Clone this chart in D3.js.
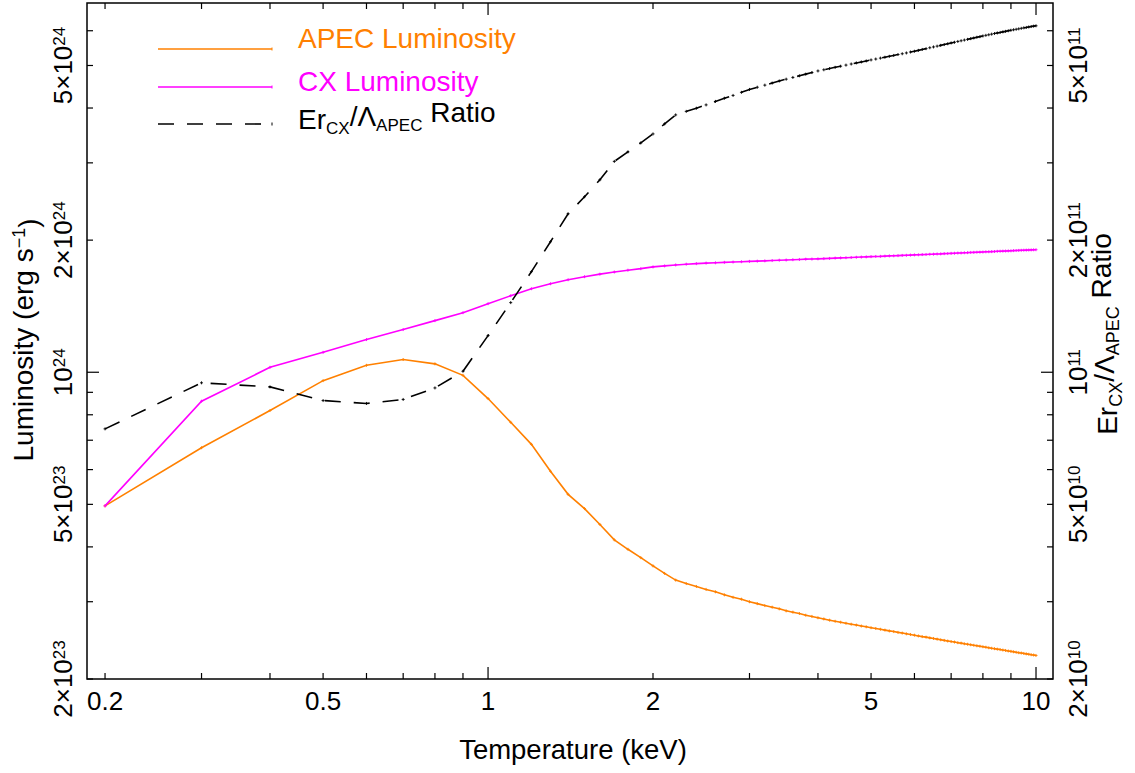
<!DOCTYPE html>
<html>
<head>
<meta charset="utf-8">
<script src="https://cdn.jsdelivr.net/npm/d3@7"></script>
<style>
body{margin:0;background:#fff;}
text{font-family:"Liberation Sans",Arial,Helvetica,sans-serif;fill:#000;}
</style>
</head>
<body>
<svg id="chart" width="1135" height="773"></svg>
<script>
// temperature grid (keV)
const temps = [0.2,0.3,0.4,0.5,0.6,0.7,0.8,0.9,1.0,
 1.1,1.2,1.3,1.4,1.5,1.6,1.7,1.8,1.9,2.0,
 2.1,2.2,2.3,2.4,2.5,2.6,2.7,2.8,2.9,3.0,
 3.1,3.2,3.3,3.4,3.5,3.6,3.7,3.8,3.9,4.0,
 4.1,4.2,4.3,4.4,4.5,4.6,4.7,4.8,4.9,5.0,
 5.1,5.2,5.3,5.4,5.5,5.6,5.7,5.8,5.9,6.0,
 6.1,6.2,6.3,6.4,6.5,6.6,6.7,6.8,6.9,7.0,
 7.1,7.2,7.3,7.4,7.5,7.6,7.7,7.8,7.9,8.0,
 8.1,8.2,8.3,8.4,8.5,8.6,8.7,8.8,8.9,9.0,
 9.1,9.2,9.3,9.4,9.5,9.6,9.7,9.8,9.9,10.0];

// APEC luminosity, units of 1e23 erg/s
const apecLum = [4.96,6.73,8.18,9.57,10.37,10.69,10.45,9.84,8.71,
 7.69,6.85,5.95,5.27,4.89,4.50,4.15,3.95,3.78,3.62,
 3.48,3.36,3.30,3.25,3.20,3.16,3.11,3.07,3.04,3.00,
 2.97,2.94,2.915,2.89,2.86,2.84,2.82,2.795,2.777,2.758,
 2.741,2.723,2.707,2.694,2.679,2.666,2.654,2.641,2.630,2.618,
 2.607,2.596,2.585,2.574,2.565,2.554,2.545,2.535,2.526,2.517,
 2.507,2.498,2.491,2.482,2.474,2.465,2.457,2.449,2.441,2.434,
 2.428,2.420,2.414,2.406,2.400,2.394,2.387,2.381,2.375,2.369,
 2.363,2.356,2.350,2.345,2.339,2.334,2.328,2.323,2.317,2.312,
 2.307,2.301,2.296,2.292,2.287,2.282,2.277,2.272,2.268,2.263];

// CX luminosity, units of 1e23 erg/s
const cxLum = [4.96,8.59,10.26,11.10,11.87,12.51,13.11,13.67,14.33,
 14.94,15.50,15.91,16.25,16.51,16.73,16.92,17.08,17.22,17.38,
 17.47,17.56,17.63,17.68,17.73,17.76,17.80,17.83,17.86,17.89,
 17.91,17.94,17.97,18.00,18.02,18.05,18.07,18.10,18.11,18.13,
 18.15,18.17,18.20,18.22,18.24,18.26,18.28,18.30,18.32,18.34,
 18.36,18.37,18.39,18.41,18.42,18.44,18.46,18.47,18.49,18.51,
 18.52,18.54,18.55,18.57,18.58,18.60,18.61,18.63,18.64,18.66,
 18.67,18.69,18.70,18.72,18.73,18.75,18.76,18.77,18.78,18.79,
 18.81,18.82,18.83,18.84,18.86,18.87,18.88,18.89,18.90,18.91,
 18.93,18.94,18.95,18.96,18.97,18.98,18.99,19.00,19.01,19.02];

// Er_CX / Lambda_APEC ratio, units of 1e10
const ratio = [7.43,9.46,9.26,8.62,8.49,8.67,9.21,10.05,12.12,
 14.41,16.95,19.83,22.97,25.11,27.45,30.23,31.78,33.31,34.92,
 36.81,38.58,39.30,39.96,40.66,41.41,42.11,42.73,43.43,44.10,
 44.61,45.10,45.60,46.10,46.54,46.96,47.37,47.78,48.18,48.59,
 48.89,49.20,49.52,49.81,50.10,50.39,50.68,50.94,51.21,51.48,
 51.72,51.97,52.21,52.46,52.71,52.96,53.18,53.40,53.66,53.88,
 54.13,54.39,54.62,54.88,55.11,55.34,55.57,55.80,56.04,56.28,
 56.48,56.72,56.93,57.14,57.35,57.56,57.77,57.98,58.17,58.38,
 58.57,58.75,58.94,59.13,59.31,59.47,59.65,59.81,59.99,60.15,
 60.31,60.46,60.60,60.76,60.92,61.05,61.20,61.33,61.46,61.58];

const xTickLabels = [0.2, 0.5, 1, 2, 5, 10];
const lumTickLabels = [2e23, 5e23, 1e24, 2e24, 5e24];
const ratioTickLabels = [2e10, 5e10, 1e11, 2e11, 5e11];
const legendNames = ["APEC Luminosity", "CX Luminosity", "ratio"];
const colors = ["#ff8000", "#ff00ff", "#000000"];

var svg = d3.select("#chart");
var pL = 87, pR = 1053, pT = 3, pB = 679;

var x = d3.scaleLog().domain([0.1854, 10.74]).range([pL, pR]);
var yL = d3.scaleLog().domain([2e23, 6.94e24]).range([pB, pT]);
var yR = d3.scaleLog().domain([2e10, 6.94e11]).range([pB, pT]);

function isDecade(v){
    var l = Math.log10(v);
    return Math.abs(l - Math.round(l)) < 1e-6;
}

// frame
svg.append("rect")
    .attr("x", pL).attr("y", pT)
    .attr("width", pR - pL).attr("height", pB - pT)
    .attr("fill", "none").attr("stroke", "#000").attr("stroke-width", 1.5);

var ticks = svg.append("g").attr("stroke", "#000").attr("stroke-width", 1.2);
x.ticks().forEach(t=>{
    var len = isDecade(t) ? 12 : 6;
    ticks.append("line").attr("x1", x(t)).attr("x2", x(t)).attr("y1", pB).attr("y2", pB - len);
    ticks.append("line").attr("x1", x(t)).attr("x2", x(t)).attr("y1", pT).attr("y2", pT + len);
});
yL.ticks().forEach(t=>{
    var len = isDecade(t) ? 12 : 6;
    ticks.append("line").attr("x1", pL).attr("x2", pL + len).attr("y1", yL(t)).attr("y2", yL(t));
});
yR.ticks().forEach(t=>{
    var len = isDecade(t) ? 12 : 6;
    ticks.append("line").attr("x1", pR).attr("x2", pR - len).attr("y1", yR(t)).attr("y2", yR(t));
});

// x tick labels
svg.selectAll(".xlab").data(xTickLabels).enter().append("text")
    .attr("class", "xlab")
    .attr("x", d=>x(d)).attr("y", 710)
    .attr("text-anchor", "middle")
    .style("font-size", "26px")
    .text(d=>d);

function powLabel(sel, v){
    var e = Math.floor(Math.log10(v) + 1e-9);
    var m = Math.round(v / Math.pow(10, e));
    sel.append("tspan").text(m === 1 ? "10" : m + "\u00d710");
    sel.append("tspan").attr("dy", "-0.42em").style("font-size", "17px").text(e);
}

svg.selectAll(".ylabL").data(lumTickLabels).enter().append("text")
    .attr("class", "ylabL")
    .attr("transform", d=>"translate(72," + yL(d) + ") rotate(-90)")
    .attr("text-anchor", "middle")
    .style("font-size", "26px")
    .each(function(d){ powLabel(d3.select(this), d); });

svg.selectAll(".ylabR").data(ratioTickLabels).enter().append("text")
    .attr("class", "ylabR")
    .attr("transform", d=>"translate(1087," + yR(d) + ") rotate(-90)")
    .attr("text-anchor", "middle")
    .style("font-size", "26px")
    .each(function(d){ powLabel(d3.select(this), d); });

// axis titles
svg.append("text")
    .attr("x", 573).attr("y", 759)
    .attr("text-anchor", "middle")
    .style("font-size", "27.5px")
    .text("Temperature (keV)");

var lt = svg.append("text")
    .attr("transform", "translate(33,340) rotate(-90)")
    .attr("text-anchor", "middle")
    .style("font-size", "28px");
lt.append("tspan").text("Luminosity (erg s");
lt.append("tspan").attr("dy", "-0.45em").style("font-size", "18px").text("\u22121");
lt.append("tspan").attr("dy", "0.45em").text(")");

function ratioText(t, subSize){
    t.append("tspan").text("Er");
    t.append("tspan").attr("dy", "0.3em").style("font-size", subSize).text("CX");
    t.append("tspan").attr("dy", "-0.3em").text("/\u039b");
    t.append("tspan").attr("dy", "0.3em").style("font-size", subSize).text("APEC");
    t.append("tspan").attr("dy", "-0.3em").text(" Ratio");
}

var rt = svg.append("text")
    .attr("transform", "translate(1117,334) rotate(-90)")
    .attr("text-anchor", "middle")
    .style("font-size", "28px");
ratioText(rt, "18px");

// series
var series = [
    {vals: apecLum, y: v=>yL(v * 1e23), color: colors[0], dash: null},
    {vals: cxLum, y: v=>yL(v * 1e23), color: colors[1], dash: null},
    {vals: ratio, y: v=>yR(v * 1e10), color: colors[2], dash: "16,13"}
];

series.forEach(s=>{
    var pts = temps.map((t, i)=>[x(t), s.y(s.vals[i])]);
    svg.append("path")
        .attr("d", d3.line()(pts))
        .attr("fill", "none")
        .attr("stroke", s.color)
        .attr("stroke-width", 1.6)
        .attr("stroke-dasharray", s.dash);
    var mk = svg.append("g").attr("stroke", s.color).attr("stroke-width", 0.9);
    pts.forEach(p=>{
        mk.append("line").attr("x1", p[0] - 1.5).attr("x2", p[0] + 1.5).attr("y1", p[1]).attr("y2", p[1]);
        mk.append("line").attr("x1", p[0]).attr("x2", p[0]).attr("y1", p[1] - 1.5).attr("y2", p[1] + 1.5);
    });
});

// legend
var legY = [49, 87, 124];
var textY = [48, 91, 129];
legendNames.forEach((name, i)=>{
    svg.append("line")
        .attr("x1", 158).attr("x2", 272)
        .attr("y1", legY[i]).attr("y2", legY[i])
        .attr("stroke", colors[i]).attr("stroke-width", 1.6)
        .attr("stroke-dasharray", series[i].dash);
    svg.append("line")
        .attr("x1", 272).attr("x2", 272)
        .attr("y1", legY[i] - 1.5).attr("y2", legY[i] + 1.5)
        .attr("stroke", colors[i]).attr("stroke-width", 1);
    var t = svg.append("text")
        .attr("x", 298).attr("y", textY[i])
        .style("font-size", "28px");
    if (i < 2) {
        t.style("fill", colors[i]).text(name);
    } else {
        ratioText(t, "17px");
    }
});
</script>
</body>
</html>
